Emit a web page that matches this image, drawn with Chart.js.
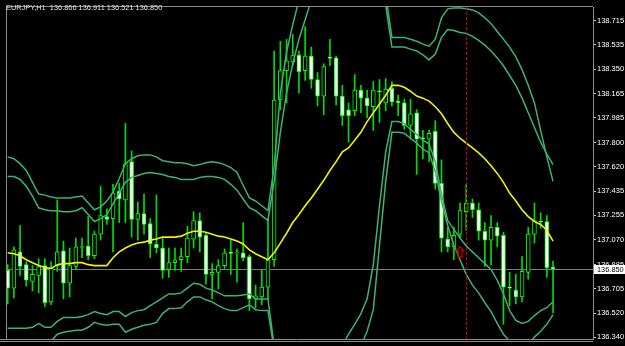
<!DOCTYPE html>
<html>
<head>
<meta charset="utf-8">
<script src="https://cdn.jsdelivr.net/npm/chart.js@4.4.1/dist/chart.umd.min.js"></script>
<style>
html, body { margin: 0; padding: 0; background: #000; }
#wrap { width: 625px; height: 346px; }
</style>
</head>
<body>
<div id="wrap"><canvas id="chart" width="625" height="346"></canvas></div>
<script>
var symbol = 'EURJPY,H1';

var open = [136.841, 136.708, 136.980, 136.884, 136.759, 136.804, 136.877, 136.605, 136.877, 136.988,
    136.745, 136.870, 137.013, 137.024, 136.951, 137.113, 137.245, 137.230, 137.436, 137.370,
    137.657, 137.223, 137.267, 137.193, 137.039, 137.009, 136.848, 136.899, 136.921, 136.944,
    137.076, 137.215, 137.105, 136.811, 136.826, 136.877, 136.973, 136.973, 136.973, 136.944,
    136.627, 136.642, 136.715, 136.921, 138.120, 138.341, 138.406, 138.458, 138.341, 138.450,
    138.274, 138.149, 138.443, 138.436, 138.149, 138.047, 138.039, 138.194, 138.134, 138.069,
    138.186, 138.098, 138.208, 138.112, 138.098, 137.929, 138.024, 137.833, 137.826, 137.885,
    137.494, 137.076, 137.017, 137.113, 137.282, 137.347, 137.296, 137.135, 137.068, 137.164,
    137.105, 136.715, 136.694, 136.642, 136.826, 137.113, 137.208, 137.208, 136.866];

var high = [136.884, 137.017, 137.178, 136.906, 136.877, 136.929, 136.929, 136.906, 137.370, 137.061,
    137.009, 137.083, 137.083, 137.245, 137.135, 137.472, 137.303, 137.487, 137.494, 137.944,
    137.738, 137.355, 137.414, 137.230, 137.407, 137.083, 137.009, 137.009, 137.009, 137.171,
    137.282, 137.274, 137.120, 136.892, 136.921, 137.002, 137.068, 137.002, 137.200, 136.958,
    136.730, 136.848, 137.230, 138.488, 138.561, 138.575, 138.612, 138.488, 138.671, 138.517,
    138.326, 138.392, 138.575, 138.450, 138.230, 138.098, 138.311, 138.230, 138.194, 138.259,
    138.274, 138.281, 138.259, 138.156, 138.127, 138.127, 138.047, 137.892, 137.892, 137.965,
    137.671, 137.164, 137.164, 137.347, 137.487, 137.377, 137.347, 137.200, 137.252, 137.200,
    137.127, 136.826, 136.811, 136.944, 137.164, 137.347, 137.274, 137.252, 136.911];

var low = [136.590, 136.635, 136.804, 136.723, 136.686, 136.672, 136.568, 136.583, 136.833, 136.627,
    136.642, 136.848, 136.936, 136.921, 136.929, 137.068, 137.186, 136.980, 137.200, 137.200,
    137.091, 137.068, 137.113, 136.936, 136.973, 136.782, 136.789, 136.841, 136.833, 136.899,
    137.009, 136.980, 136.737, 136.627, 136.701, 136.855, 136.811, 136.752, 136.914, 136.539,
    136.561, 136.583, 136.627, 136.870, 138.047, 138.098, 138.377, 138.171, 138.267, 138.208,
    138.076, 138.009, 138.377, 138.083, 137.929, 137.804, 138.002, 138.024, 137.987, 137.892,
    137.951, 138.039, 138.076, 138.002, 137.900, 137.826, 137.561, 137.679, 137.657, 137.450,
    136.980, 136.980, 136.921, 137.083, 137.142, 137.238, 137.068, 136.870, 136.884, 137.017,
    136.436, 136.576, 136.590, 136.605, 136.774, 137.046, 137.156, 136.789, 136.521];

var close = [136.708, 136.995, 136.870, 136.767, 136.811, 136.870, 136.598, 136.862, 136.980, 136.745,
    136.877, 137.017, 137.020, 136.951, 137.113, 137.252, 137.223, 137.421, 137.377, 137.642,
    137.223, 137.267, 137.186, 137.039, 137.009, 136.841, 136.899, 136.921, 136.944, 137.083,
    137.215, 137.091, 136.811, 136.826, 136.877, 136.973, 136.969, 136.977, 136.936, 136.627,
    136.650, 136.715, 136.921, 138.120, 138.341, 138.414, 138.458, 138.333, 138.450, 138.274,
    138.149, 138.370, 138.432, 138.149, 138.002, 138.002, 138.194, 138.134, 138.076, 138.194,
    138.182, 138.201, 138.105, 138.098, 137.929, 138.017, 137.826, 137.829, 137.870, 137.494,
    137.083, 137.017, 137.105, 137.289, 137.347, 137.296, 137.135, 137.068, 137.164, 137.098,
    136.715, 136.708, 136.642, 136.833, 137.113, 137.215, 137.204, 136.862, 136.850];

// moving average (yellow)
var ma = [136.973, 136.966, 136.951, 136.921, 136.899, 136.877, 136.862, 136.855, 136.884, 136.892,
    136.892, 136.899, 136.899, 136.884, 136.877, 136.877, 136.877, 136.936, 136.980, 137.009,
    137.031, 137.046, 137.053, 137.068, 137.076, 137.091, 137.091, 137.091, 137.098, 137.120,
    137.135, 137.135, 137.127, 137.113, 137.098, 137.091, 137.076, 137.061, 137.039, 136.995,
    136.966, 136.944, 136.921, 136.973, 137.046, 137.120, 137.200, 137.260, 137.326, 137.385,
    137.450, 137.517, 137.591, 137.657, 137.730, 137.760, 137.818, 137.877, 137.958, 138.024,
    138.090, 138.156, 138.230, 138.230, 138.215, 138.186, 138.149, 138.134, 138.112, 138.069,
    138.017, 137.944, 137.877, 137.833, 137.796, 137.760, 137.723, 137.679, 137.627, 137.569,
    137.502, 137.421, 137.362, 137.296, 137.245, 137.208, 137.186, 137.142, 137.061];

// channel lines (green)
var upperOuter = [137.693, 137.679, 137.642, 137.591, 137.502, 137.414, 137.406, 137.392, 137.385, 137.385,
    137.385, 137.392, 137.399, 137.347, 137.296, 137.318, 137.362, 137.428, 137.531, 137.642,
    137.679, 137.701, 137.708, 137.708, 137.693, 137.664, 137.657, 137.649, 137.649, 137.642,
    137.627, 137.635, 137.649, 137.657, 137.649, 137.635, 137.613, 137.576, 137.480, 137.385,
    137.362, 137.326, 137.289, 137.620, 138.171, 138.480, 138.686, 138.870, 139.090, 139.348,
    139.568, 139.789, 139.936, 140.046, 140.120, 140.157, 140.157, 140.120, 140.009, 139.789,
    139.421, 138.907, 138.590, 138.590, 138.590, 138.576, 138.561, 138.539, 138.524, 138.576,
    138.737, 138.804, 138.811, 138.811, 138.804, 138.796, 138.774, 138.737, 138.693, 138.634,
    138.576, 138.517, 138.443, 138.348, 138.230, 138.098, 137.892, 137.693, 137.509];

var upperInner = [137.546, 137.546, 137.524, 137.472, 137.399, 137.311, 137.296, 137.289, 137.289, 137.282,
    137.282, 137.289, 137.311, 137.260, 137.208, 137.230, 137.260, 137.340, 137.421, 137.502,
    137.539, 137.553, 137.568, 137.576, 137.568, 137.561, 137.546, 137.539, 137.524, 137.524,
    137.524, 137.539, 137.546, 137.546, 137.539, 137.524, 137.487, 137.443, 137.377, 137.311,
    137.289, 137.252, 137.215, 137.509, 137.877, 138.171, 138.392, 138.576, 138.723, 138.870,
    139.054, 139.237, 139.384, 139.495, 139.568, 139.605, 139.605, 139.568, 139.495, 139.384,
    139.164, 138.833, 138.517, 138.517, 138.517, 138.502, 138.488, 138.458, 138.421, 138.465,
    138.590, 138.649, 138.642, 138.627, 138.620, 138.598, 138.568, 138.532, 138.488, 138.436,
    138.377, 138.304, 138.230, 138.134, 138.024, 137.914, 137.804, 137.715, 137.635];

var lowerInner = [136.407, 136.407, 136.407, 136.407, 136.414, 136.443, 136.414, 136.414, 136.458, 136.487,
    136.487, 136.487, 136.495, 136.509, 136.532, 136.517, 136.509, 136.532, 136.532, 136.495,
    136.524, 136.539, 136.546, 136.576, 136.605, 136.635, 136.664, 136.664, 136.672, 136.708,
    136.745, 136.737, 136.708, 136.694, 136.672, 136.650, 136.650, 136.650, 136.657, 136.664,
    136.627, 136.627, 136.627, 136.274, 136.311, 136.318, 136.296, 136.186, 136.039, 135.929,
    135.892, 135.892, 135.965, 136.112, 136.274, 136.362, 136.436, 136.517, 136.627, 136.884,
    137.326, 137.730, 137.958, 137.958, 137.943, 137.899, 137.862, 137.818, 137.789, 137.657,
    137.414, 137.215, 137.149, 137.083, 137.024, 136.980, 136.936, 136.892, 136.848, 136.767,
    136.664, 136.539, 136.465, 136.443, 136.458, 136.502, 136.539, 136.561, 136.605];

var lowerOuter = [136.260, 136.260, 136.260, 136.260, 136.260, 136.260, 136.260, 136.311, 136.362, 136.377,
    136.384, 136.392, 136.392, 136.414, 136.451, 136.436, 136.429, 136.436, 136.436, 136.377,
    136.399, 136.414, 136.429, 136.436, 136.451, 136.517, 136.554, 136.554, 136.561, 136.605,
    136.642, 136.642, 136.620, 136.605, 136.576, 136.554, 136.539, 136.539, 136.561, 136.583,
    136.546, 136.539, 136.539, 136.245, 136.112, 136.002, 135.892, 135.818, 135.782, 135.760,
    135.760, 135.782, 135.833, 135.907, 136.002, 136.098, 136.186, 136.274, 136.384, 136.546,
    137.031, 137.509, 137.877, 137.877, 137.870, 137.833, 137.796, 137.752, 137.723, 137.583,
    137.362, 137.179, 137.031, 136.921, 136.811, 136.730, 136.672, 136.598, 136.532, 136.443,
    136.362, 136.311, 136.274, 136.260, 136.289, 136.340, 136.384, 136.436, 136.509];

var priceTicks = [138.715, 138.535, 138.350, 138.165, 137.985, 137.800, 137.620,
    137.435, 137.255, 137.070, 136.885, 136.705, 136.520, 136.340];

var lastPrice = 136.850;
var markerBar = 74;      // red dashed period separator
var arrowBar = 73;       // trade arrow
var arrowPrice = 136.980;

function pts(arr) {
    return arr.map(function (v, i) { return { x: i, y: v }; });
}

var last = open.length - 1;
var header = symbol + '  ' + open[last].toFixed(3) + ' ' + high[last].toFixed(3) + ' ' +
    low[last].toFixed(3) + ' ' + close[last].toFixed(3);

var wickData = high.map(function (h, i) { return { x: i, y: [low[i], h] }; });
var bodyData = open.map(function (o, i) { return { x: i, y: [o, close[i]] }; });
var bodyFill = open.map(function (o, i) { return close[i] < o ? '#ffffff' : '#000000'; });

// hollow red up arrow
var arrowImg = document.createElement('canvas');
arrowImg.width = 10;
arrowImg.height = 12;
var ac = arrowImg.getContext('2d');
ac.strokeStyle = '#c00000';
ac.lineWidth = 1.4;
ac.beginPath();
ac.moveTo(5, 1);
ac.lineTo(9, 5);
ac.lineTo(7, 5);
ac.lineTo(7, 11);
ac.lineTo(3, 11);
ac.lineTo(3, 5);
ac.lineTo(1, 5);
ac.closePath();
ac.stroke();

var frame = {
    id: 'frame',
    beforeDatasetsDraw: function (chart) {
        var ctx = chart.ctx, a = chart.chartArea;
        var py = Math.round(chart.scales.y.getPixelForValue(lastPrice)) + 0.5;
        ctx.save();
        ctx.strokeStyle = '#7a7a7a';
        ctx.lineWidth = 1;
        ctx.beginPath();
        ctx.moveTo(a.left, py);
        ctx.lineTo(a.right, py);
        ctx.stroke();
        ctx.restore();
    },
    afterDatasetsDraw: function (chart) {
        var ctx = chart.ctx, a = chart.chartArea;
        var px = Math.round(chart.scales.x.getPixelForValue(markerBar)) + 0.5;
        ctx.save();
        ctx.strokeStyle = '#d00000';
        ctx.lineWidth = 1;
        ctx.setLineDash([3, 2]);
        ctx.beginPath();
        ctx.moveTo(px, a.top);
        ctx.lineTo(px, a.bottom);
        ctx.stroke();
        ctx.restore();
    },
    afterDraw: function (chart) {
        var ctx = chart.ctx, a = chart.chartArea;
        ctx.save();
        ctx.strokeStyle = '#8c8c8c';
        ctx.lineWidth = 1;
        ctx.beginPath();
        ctx.moveTo(a.left - 0.5, a.top - 0.5);
        ctx.lineTo(a.right, a.top - 0.5);
        ctx.moveTo(a.left - 0.5, a.top - 0.5);
        ctx.lineTo(a.left - 0.5, a.bottom + 0.5);
        ctx.moveTo(0, a.bottom + 0.5);
        ctx.lineTo(a.right, a.bottom + 0.5);
        ctx.moveTo(0, a.bottom + 2.5);
        ctx.lineTo(a.right, a.bottom + 2.5);
        ctx.stroke();

        ctx.fillStyle = '#e0e0e0';
        ctx.font = '7.4px "Liberation Sans"';
        ctx.textBaseline = 'middle';
        ctx.textAlign = 'left';
        ctx.fillText(header, 6, 8);

        var py = Math.round(chart.scales.y.getPixelForValue(lastPrice));
        ctx.fillStyle = '#ffffff';
        ctx.fillRect(a.right + 1, py - 4, chart.width - a.right - 1, 9);
        ctx.fillStyle = '#000000';
        ctx.fillText(lastPrice.toFixed(3), a.right + 4, py + 0.5);
        ctx.restore();
    }
};

var lineStyle = function (arr, color, width) {
    return {
        type: 'line',
        data: pts(arr),
        borderColor: color,
        borderWidth: width,
        pointRadius: 0,
        tension: 0,
        order: 1
    };
};

var ctx = document.getElementById('chart').getContext('2d');
new Chart(ctx, {
    type: 'bar',
    data: {
        datasets: [{
            type: 'line',
            data: [{ x: arrowBar, y: arrowPrice }],
            showLine: false,
            pointStyle: arrowImg,
            pointRadius: 6,
            order: 0
        },
        lineStyle(ma, '#f2f200', 1.6),
        lineStyle(upperOuter, '#3cb371', 1.5),
        lineStyle(upperInner, '#3cb371', 1.5),
        lineStyle(lowerInner, '#3cb371', 1.5),
        lineStyle(lowerOuter, '#3cb371', 1.5),
        {
            label: 'bodies',
            data: bodyData,
            backgroundColor: bodyFill,
            borderColor: '#00ff00',
            borderWidth: 1,
            borderSkipped: false,
            barThickness: 4,
            minBarLength: 1,
            grouped: false,
            order: 2
        }, {
            label: 'wicks',
            data: wickData,
            backgroundColor: '#00dd00',
            borderWidth: 0,
            barThickness: 1,
            grouped: false,
            order: 3
        }]
    },
    options: {
        responsive: false,
        animation: false,
        layout: {
            padding: { left: 2, top: 2, right: 0, bottom: 5 }
        },
        plugins: {
            legend: { display: false },
            tooltip: { enabled: false }
        },
        scales: {
            x: {
                type: 'linear',
                min: -0.11,
                max: 94.45,
                offset: false,
                display: false
            },
            y: {
                position: 'right',
                min: 136.326,
                max: 138.818,
                beginAtZero: false,
                afterFit: function (scale) { scale.width = 32; },
                afterBuildTicks: function (scale) {
                    scale.ticks = priceTicks.map(function (v) { return { value: v }; });
                },
                ticks: {
                    autoSkip: false,
                    color: '#ffffff',
                    padding: 1,
                    font: { family: 'Liberation Sans', size: 7.5 },
                    callback: function (v) { return Number(v).toFixed(3); }
                },
                grid: {
                    drawOnChartArea: false,
                    tickLength: 3,
                    color: '#c8c8c8'
                },
                border: { color: '#8c8c8c' }
            }
        }
    },
    plugins: [frame]
});
</script>
</body>
</html>
